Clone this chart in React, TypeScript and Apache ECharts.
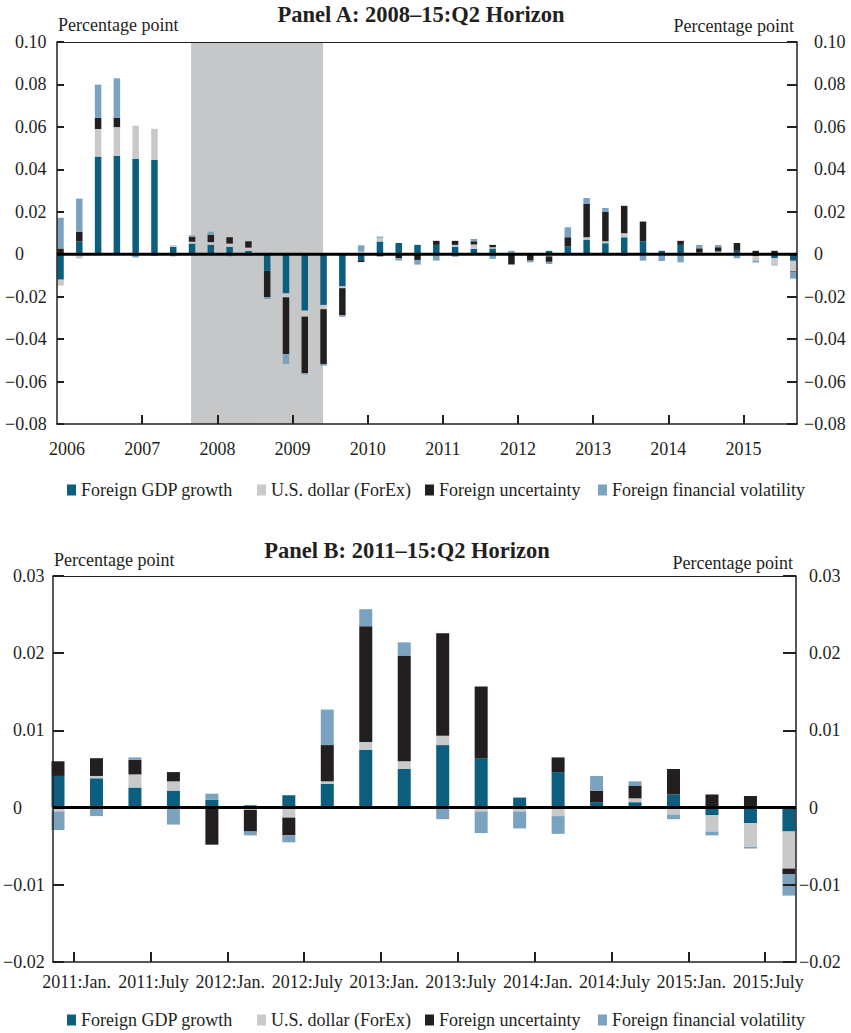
import { useEffect, useRef } from "react";
import * as echarts from "echarts";

const INK = "#231f20";
const FONT = '"Liberation Serif", "Times New Roman", serif';

const factorNames = [
  "Foreign GDP growth",
  "U.S. dollar (ForEx)",
  "Foreign uncertainty",
  "Foreign financial volatility",
];
const factorColors = ["#0b5e7d", "#c8c9cb", "#231f20", "#7ba3c0"];

// Panel A: 40 quarterly contributions (percentage point)
const yearLabelsA = ["2006", "2007", "2008", "2009", "2010", "2011", "2012", "2013", "2014", "2015"];
const gdpA = [
  -0.012, 0.006, 0.046, 0.0464, 0.045, 0.0444, 0.0035, 0.005, 0.0045, 0.0035,
  0.0016, -0.0078, -0.0185, -0.0266, -0.0239, -0.0152, -0.0028, 0.006, 0.0053, 0.0044,
  0.0044, 0.0036, 0.0025, 0.0027, 0.0008, 0.0005, 0.0016, 0.0036, 0.0069, 0.0052,
  0.008, 0.0061, 0.0016, 0.0044, 0.0008, 0.0005, 0.0016, -0.0008, -0.0019, -0.0031,
];
const usdA = [
  -0.0028, -0.002, 0.013, 0.0135, 0.0156, 0.0147, 0.0008, 0.0009, 0.0012, 0.0015,
  0.0015, 0, -0.0018, -0.0028, -0.002, -0.0008, 0.0012, 0.0017, 0, 0,
  -0.0004, 0.0008, 0.0021, 0.0006, 0, 0, -0.001, 0, 0.0011, 0.0009,
  0.0019, 0, -0.0005, 0, -0.0003, 0.0008, -0.0005, -0.0022, -0.003, -0.005,
];
const uncA = [
  0.0027, 0.0046, 0.0053, 0.0045, 0, 0, 0, 0.0022, 0.0035, 0.003,
  0.003, -0.0125, -0.0268, -0.0266, -0.0258, -0.0127, -0.0009, -0.001, -0.0019, -0.0027,
  0.0019, 0.0019, 0.0015, 0.0011, -0.0049, -0.003, -0.0026, 0.0044, 0.0157, 0.014,
  0.0129, 0.0093, 0, 0.0019, 0.002, 0.002, 0.0037, 0.0016, 0.0016, -0.0005,
];
const volA = [
  0.0145, 0.0156, 0.0156, 0.0185, -0.0015, -0.0008, -0.001, 0.0008, 0.0014, -0.001,
  -0.0008, -0.0008, -0.0047, -0.0007, -0.0008, -0.0008, 0.003, 0.0006, -0.0011, -0.0022,
  -0.0026, -0.0012, 0.0011, -0.0022, 0.0008, -0.0008, -0.001, 0.0047, 0.0028, 0.0017,
  -0.0008, -0.003, -0.0027, -0.0038, 0.0016, 0.0011, -0.0014, -0.0009, -0.0004, -0.0029,
];
// Recession shading, in quarter-index units
const recessionA = [6.95, 13.97];

// Panel B: 20 quarterly contributions (percentage point)
const periodLabelsB = [
  "2011:Jan.", "2011:July", "2012:Jan.", "2012:July", "2013:Jan.",
  "2013:July", "2014:Jan.", "2014:July", "2015:Jan.", "2015:July",
];
const gdpB = [
  0.0041, 0.0038, 0.0026, 0.0022, 0.001, 0.0003, 0.0016, 0.0031, 0.0075, 0.005,
  0.0081, 0.0064, 0.0013, 0.0046, 0.0007, 0.0007, 0.0017, -0.001, -0.002, -0.0031,
];
const usdB = [
  -0.0005, 0.0003, 0.0017, 0.0012, 0, -0.0003, -0.0013, 0.0003, 0.001, 0.001,
  0.0012, -0.0005, -0.0005, -0.0011, -0.0002, 0.0005, -0.0009, -0.0021, -0.0031, -0.0048,
];
const uncB = [
  0.0019, 0.0023, 0.0019, 0.0012, -0.0048, -0.0028, -0.0023, 0.0047, 0.015, 0.0137,
  0.0133, 0.0093, 0, 0.0019, 0.0015, 0.0016, 0.0033, 0.0017, 0.0015, -0.0007,
];
const volB = [
  -0.0024, -0.0011, 0.0003, -0.0022, 0.0008, -0.0005, -0.0009, 0.0046, 0.0022, 0.0017,
  -0.0015, -0.0028, -0.0022, -0.0023, 0.0019, 0.0006, -0.0006, -0.0005, -0.0002, -0.0028,
];

const MINUS_W = 10;

function yTickLabel(v: number): string {
  if (Math.abs(v) < 1e-9) return "{p|0}";
  const s = Math.abs(v).toFixed(2);
  return v < 0 ? "{n|\u2212" + s + "}" : "{p|" + s + "}";
}

const labelText = { fontFamily: FONT, fontSize: 18, color: INK };

// Panel geometry (pixels): plot frame and bar spacing
const panelA = { left: 57, top: 42, width: 740, height: 382, firstBar: 60.5, step: 18.79, n: gdpA.length };
const panelB = { left: 52, top: 576, width: 744, height: 386, firstBar: 58, step: 38.47, n: gdpB.length };

function frameRange(p: typeof panelA) {
  return {
    min: (p.left - p.firstBar) / p.step,
    max: (p.left + p.width - p.firstBar) / p.step,
  };
}

function barGrid(p: typeof panelA) {
  return {
    left: p.firstBar - p.step / 2,
    top: p.top,
    width: p.step * p.n,
    height: p.height,
  };
}

function yAxisDef(
  grid: number,
  side: "left" | "right",
  min: number,
  max: number,
  interval: number,
  tickLen: number,
  margin: number,
  nameGap: number
) {
  return {
    gridIndex: grid,
    type: "value",
    position: side,
    min,
    max,
    interval,
    z: 5,
    name: "Percentage point",
    nameLocation: "end",
    nameGap,
    nameTextStyle: {
      ...labelText,
      align: side === "left" ? "left" : "right",
      verticalAlign: "middle",
      padding: side === "left" ? [0, 0, 0, 1] : [0, 3, 0, 0],
    },
    axisLine: { show: true, onZero: false, lineStyle: { color: INK, width: 1.5 } },
    axisTick: { show: true, inside: true, length: tickLen, lineStyle: { color: INK, width: 2 } },
    splitLine: { show: false },
    axisLabel: {
      ...labelText,
      align: "left",
      margin,
      formatter: yTickLabel,
      rich: {
        p: { ...labelText, padding: [0, 0, 0, MINUS_W] },
        n: { ...labelText },
      },
    },
  };
}

function hiddenY(grid: number, min: number, max: number) {
  return { gridIndex: grid, type: "value", min, max, show: false, splitLine: { show: false } };
}

function hiddenCategoryX(grid: number, n: number) {
  return {
    gridIndex: grid,
    type: "category",
    data: Array.from({ length: n }, (_, i) => String(i)),
    boundaryGap: true,
    show: false,
  };
}

function frameAxis(grid: number, min: number, max: number) {
  return {
    gridIndex: grid,
    type: "value",
    position: "top",
    min,
    max,
    z: 5,
    axisLine: { show: true, onZero: false, lineStyle: { color: INK, width: 1 } },
    axisTick: { show: false },
    axisLabel: { show: false },
    splitLine: { show: false },
  };
}

function bars(values: number[][], axisIndex: number, stack: string, barWidth: number) {
  return values.map((vals, i) => ({
    name: factorNames[i],
    type: "bar",
    xAxisIndex: axisIndex,
    yAxisIndex: axisIndex,
    stack,
    barWidth,
    z: 3,
    emphasis: { disabled: true },
    itemStyle: { color: factorColors[i] },
    data: vals,
  }));
}

function zeroLine(axisX: number, axisY: number, min: number, max: number) {
  return {
    type: "line",
    xAxisIndex: axisX,
    yAxisIndex: axisY,
    z: 10,
    silent: true,
    symbol: "none",
    lineStyle: { color: "#000", width: 3 },
    data: [
      [min, 0],
      [max, 0],
    ],
  };
}

export default function App() {
  const ref = useRef<HTMLDivElement>(null);

  useEffect(() => {
    if (!ref.current) return;
    const chart = echarts.init(ref.current, undefined, { renderer: "svg" });

    const rA = frameRange(panelA);
    const rB = frameRange(panelB);
    const yearPos = yearLabelsA.map((_, k) => 0.35 + 4 * k);
    const tickPosB = periodLabelsB.map((_, k) => 0.38 + 2 * k);
    const labelPosB = periodLabelsB.map((_, k) => 0.46 + 2 * k);

    const legendLeft = [67, 257, 425, 598];
    const legends: any[] = [];
    [481, 1011].forEach((top) => {
      factorNames.forEach((n, i) => {
        legends.push({
          data: [n],
          left: legendLeft[i],
          top,
          padding: 0,
          icon: "rect",
          itemWidth: 9,
          itemHeight: 11,
          selectedMode: false,
          textStyle: { ...labelText },
        });
      });
    });

    const option: any = {
      animation: false,
      textStyle: { fontFamily: FONT },
      grid: [
        { left: panelA.left, top: panelA.top, width: panelA.width, height: panelA.height },
        barGrid(panelA),
        { left: panelB.left, top: panelB.top, width: panelB.width, height: panelB.height },
        barGrid(panelB),
      ],
      xAxis: [
        {
          gridIndex: 0,
          type: "value",
          position: "bottom",
          min: rA.min,
          max: rA.max,
          z: 5,
          splitLine: { show: false },
          axisLine: { show: true, onZero: false, lineStyle: { color: INK, width: 1.5 } },
          axisTick: {
            show: true,
            inside: true,
            length: 9,
            lineStyle: { color: INK, width: 2 },
            customValues: yearPos.slice(1),
          },
          axisLabel: {
            ...labelText,
            margin: 16,
            customValues: yearPos,
            formatter: (v: number) => yearLabelsA[Math.round((v - 0.35) / 4)] ?? "",
          },
        },
        hiddenCategoryX(1, panelA.n),
        {
          gridIndex: 2,
          type: "value",
          position: "bottom",
          min: rB.min,
          max: rB.max,
          z: 5,
          splitLine: { show: false },
          axisLine: { show: true, onZero: false, lineStyle: { color: INK, width: 1.5 } },
          axisTick: {
            show: true,
            inside: true,
            length: 10,
            lineStyle: { color: INK, width: 2 },
            customValues: tickPosB,
          },
          axisLabel: {
            ...labelText,
            margin: 11,
            customValues: labelPosB,
            formatter: (v: number) => periodLabelsB[Math.round((v - 0.46) / 2)] ?? "",
          },
        },
        hiddenCategoryX(3, panelB.n),
        frameAxis(0, rA.min, rA.max),
        frameAxis(2, rB.min, rB.max),
      ],
      yAxis: [
        yAxisDef(0, "left", -0.08, 0.1, 0.02, 7, 52, 17),
        hiddenY(1, -0.08, 0.1),
        yAxisDef(2, "left", -0.02, 0.03, 0.01, 11, 50, 16),
        hiddenY(3, -0.02, 0.03),
        yAxisDef(0, "right", -0.08, 0.1, 0.02, 10, 7, 16),
        yAxisDef(2, "right", -0.02, 0.03, 0.01, 13, 3, 13),
      ],
      legend: legends,
      graphic: [
        {
          type: "text",
          x: 421,
          y: 14,
          style: {
            text: "Panel A: 2008\u201315:Q2 Horizon",
            font: 'bold 22.5px "Liberation Serif", serif',
            fill: INK,
            textAlign: "center",
            textVerticalAlign: "middle",
          },
        },
        {
          type: "text",
          x: 407,
          y: 550,
          style: {
            text: "Panel B: 2011\u201315:Q2 Horizon",
            font: 'bold 22.5px "Liberation Serif", serif',
            fill: INK,
            textAlign: "center",
            textVerticalAlign: "middle",
          },
        },
      ],
      series: [
        {
          type: "line",
          xAxisIndex: 0,
          yAxisIndex: 0,
          z: 1,
          silent: true,
          symbol: "none",
          lineStyle: { opacity: 0 },
          data: [
            [recessionA[0], 0],
            [recessionA[1], 0],
          ],
          markArea: {
            silent: true,
            z: 1,
            itemStyle: { color: "#c6c7c9" },
            data: [[{ xAxis: recessionA[0] }, { xAxis: recessionA[1] }]],
          },
        },
        ...bars([gdpA, usdA, uncA, volA], 1, "A", 6.5),
        ...bars([gdpB, usdB, uncB, volB], 3, "B", 13),
        zeroLine(0, 0, rA.min, rA.max),
        zeroLine(2, 2, rB.min, rB.max),
      ],
    };

    chart.setOption(option);
    return () => chart.dispose();
  }, []);

  return (
    <div
      ref={ref}
      style={{ position: "absolute", left: 0, top: 0, width: 851, height: 1033, background: "#fff" }}
    />
  );
}
